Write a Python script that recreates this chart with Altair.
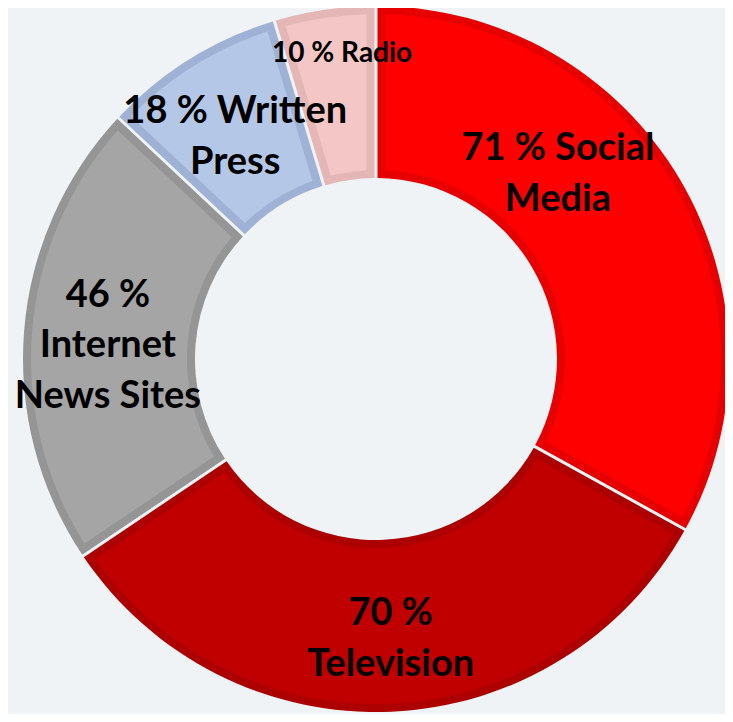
import altair as alt
import pandas as pd

categories = ["Social Media", "Television", "Internet News Sites", "Written Press", "Radio"]
values = [71, 70, 46, 18, 10]
labels = ["71 % Social\nMedia", "70 %\nTelevision", "46 %\nInternet\nNews Sites", "18 % Written\nPress", "10 % Radio"]
fill_colors = ["#ff0000", "#c00000", "#a5a5a5", "#b4c7e7", "#f5c6c6"]
edge_colors = ["#e60000", "#ad0000", "#959595", "#9fb2d5", "#e5b6b6"]

df = pd.DataFrame({
    "category": categories,
    "value": values,
    "label": labels,
    "idx": list(range(len(categories))),
})
total = sum(values)

CX, CY = 368, 351
R_OUT, R_IN = 353, 181

base = alt.Chart(df).encode(
    theta=alt.Theta("value:Q", stack=True),
    order=alt.Order("idx:Q", sort="ascending"),
    x=alt.value(CX),
    y=alt.value(CY),
)

outer = base.mark_arc(outerRadius=R_OUT, innerRadius=R_IN, padAngle=0.0076).encode(
    color=alt.Color("category:N", scale=alt.Scale(domain=categories, range=edge_colors), legend=None)
)
inner = base.mark_arc(outerRadius=R_OUT - 8, innerRadius=R_IN + 8, padAngle=0.0485).encode(
    fill=alt.Fill("category:N", scale=alt.Scale(domain=categories, range=fill_colors), legend=None)
)


def label_layer(cat, size, dx, dy):
    return (
        alt.Chart(df)
        .transform_window(cum="sum(value)", sort=[alt.SortField("idx", order="ascending")], frame=[None, 0])
        .transform_calculate(mid="datum.cum - datum.value / 2")
        .transform_filter(alt.datum.category == cat)
        .mark_text(
            font="Lato", fontWeight="bold", fontSize=size, lineHeight=size * 1.34,
            lineBreak="\n", color="black", align="center", baseline="middle", dx=dx, dy=dy,
        )
        .encode(
            theta=alt.Theta("mid:Q", scale=alt.Scale(domain=[0, total]), stack=None),
            radius=alt.value((R_OUT + R_IN) / 2),
            text="label:N",
            x=alt.value(CX),
            y=alt.value(CY),
        )
    )


texts = [
    label_layer("Social Media", 38, -48, -74),
    label_layer("Television", 38, 3, -12),
    label_layer("Internet News Sites", 38, -2, -42),
    label_layer("Written Press", 38, 0, -20),
    label_layer("Radio", 28, 5, -41),
]

chart = (
    alt.layer(outer, inner, *texts)
    .resolve_scale(theta="independent")
    .properties(width=717, height=706, autosize=alt.AutoSizeParams(type="none"), padding=0,
                background="#eff3f5")
    .configure_view(strokeWidth=0)
)

chart.save("out.html", embed_options={"renderer": "svg", "actions": False})
